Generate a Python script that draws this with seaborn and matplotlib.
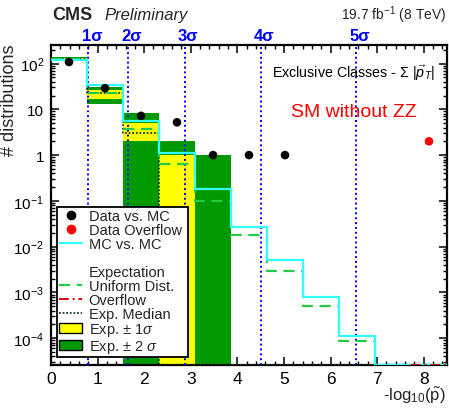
import math
import numpy as np
import pandas as pd
import matplotlib
matplotlib.use("Agg")
import matplotlib.pyplot as plt
import matplotlib.transforms as mtransforms
from matplotlib.lines import Line2D
from matplotlib.patches import Patch
from matplotlib.ticker import MultipleLocator, LogLocator, NullFormatter
import seaborn as sns

# ---- binning of -log10(p~) ----
x_range = (0.0, 8.5)
n_bins = 11

# observed number of distributions per bin (Data vs. MC), first bins
data_counts = [108, 29, 7.2, 5.2, 1, 1, 1]
# overflow entry (last bin)
overflow_count = [2]

# MC vs. MC comparison
mc_vs_mc = [118, 34.5, 5.6, 1.09, 0.18, 0.027, 0.005, 7.8e-4, 1.1e-4, 0, 0]
# expectation for a uniform p~ distribution
uniform_dist = [128, 22.3, 3.7, 0.63, 0.10, 0.018, 0.003, 5.0e-4, 8.7e-5, 0, 0]
# pseudo-experiment median and bands
exp_median = [128, 22.3, 3.07, 0, 0, 0, 0, 0, 0, 0, 0]
band1_lo = [122, 16.7, 2.05, 0, 0, 0, 0, 0, 0, 0, 0]
band1_hi = [131, 26.7, 5.1, 1.0, 0, 0, 0, 0, 0, 0, 0]
band2_lo = [116, 13.0, 0, 0, 0, 0, 0, 0, 0, 0, 0]
band2_hi = [136, 31.0, 8.3, 2.0, 1.0, 0, 0, 0, 0, 0, 0]
# expected overflow
overflow_expected = [0]

sigma_levels = [1, 2, 3, 4, 5]
y_limits = (2.6e-5, 254)

sns.set_theme(style="ticks")
plt.rcParams["font.family"] = ["Liberation Sans", "DejaVu Sans"]
plt.rcParams["mathtext.fontset"] = "custom"
plt.rcParams["mathtext.rm"] = "Liberation Sans"
plt.rcParams["mathtext.it"] = "Liberation Sans:italic"
plt.rcParams["mathtext.bf"] = "Liberation Sans:bold"

edges = np.linspace(x_range[0], x_range[1], n_bins + 1)
centers = 0.5 * (edges[:-1] + edges[1:])
floor = y_limits[0]


def step_frame(values, first_bin=0):
    vals = np.maximum(np.asarray(values, float), floor)
    x = edges[first_bin:first_bin + len(vals) + 1]
    y = np.append(vals, vals[-1])
    return pd.DataFrame({"x": x, "y": y})


def band_edges(values):
    vals = np.maximum(np.asarray(values, float), 1e-9)
    return np.append(vals, vals[-1])


fig = plt.figure(figsize=(4.49, 4.10), dpi=100)
fig.patch.set_facecolor("white")
ax = fig.add_axes([51 / 449, 44 / 410, 396 / 449, 320 / 410])
ax.set_yscale("log")
ax.set_xlim(*x_range)
ax.set_ylim(*y_limits)

# +-2 sigma and +-1 sigma bands
green = "#009900"
yellow = "#ffff00"
ax.fill_between(edges, band_edges(band2_lo), band_edges(band2_hi),
                step="post", color=green, linewidth=0, zorder=1)
ax.fill_between(edges, band_edges(band1_lo), band_edges(band1_hi),
                step="post", color=yellow, linewidth=0, zorder=2)

# significance levels (one-sided p-values)
trans = mtransforms.blended_transform_factory(ax.transData, ax.transAxes)
for n in sigma_levels:
    pos = -math.log10(0.5 * math.erfc(n / math.sqrt(2)))
    ax.axvline(pos, color="#0000ff", linestyle=(0, (1, 1.5)), linewidth=1.4, zorder=3)
    ax.text(pos + 0.08, 1.016, f"{n}\u03c3", transform=trans, ha="center",
            va="baseline", color="#0000ff", fontsize=12, fontweight="bold",
            clip_on=False)

# expectation lines
median_color = "#1a3d1a"
cyan = "#33ffff"
dash_green = "#22cc44"
sns.lineplot(data=step_frame(exp_median), x="x", y="y", ax=ax, sort=False,
             estimator=None, drawstyle="steps-post", color=median_color,
             linestyle=(0, (1, 1)), linewidth=1.3, zorder=4)
sns.lineplot(data=step_frame(uniform_dist), x="x", y="y", ax=ax, sort=False,
             estimator=None, drawstyle="steps-post", color=dash_green,
             linestyle=(0, (5, 3)), linewidth=1.6, zorder=5)
sns.lineplot(data=step_frame(mc_vs_mc), x="x", y="y", ax=ax, sort=False,
             estimator=None, drawstyle="steps-post", color=cyan,
             linewidth=1.6, zorder=6)
sns.lineplot(data=step_frame(overflow_expected, first_bin=n_bins - 1), x="x", y="y",
             ax=ax, sort=False, estimator=None, drawstyle="steps-post",
             color="#dd0000", linestyle=(0, (5, 2, 1, 2)), linewidth=1.4, zorder=6)

# observed points
data_df = pd.DataFrame({"x": centers[:len(data_counts)], "y": data_counts})
sns.scatterplot(data=data_df, x="x", y="y", ax=ax, color="black", s=38,
                edgecolor="none", zorder=8)
over_df = pd.DataFrame({"x": centers[n_bins - 1:n_bins - 1 + len(overflow_count)],
                        "y": overflow_count})
sns.scatterplot(data=over_df, x="x", y="y", ax=ax, color="#ff0000", s=38,
                edgecolor="none", zorder=8)

# axes styling
for sp in ax.spines.values():
    sp.set_linewidth(1.6)
    sp.set_color("black")
ax.xaxis.set_major_locator(MultipleLocator(1))
ax.xaxis.set_minor_locator(MultipleLocator(0.2))
yt = [1e-4, 1e-3, 1e-2, 1e-1, 1, 10, 100]
ax.set_yticks(yt)
ax.set_yticklabels([r"$10^{-4}$", r"$10^{-3}$", r"$10^{-2}$", r"$10^{-1}$", "1", "10",
                    r"$10^{2}$"])
ax.yaxis.set_minor_locator(LogLocator(base=10, subs=np.arange(2, 10), numticks=20))
ax.yaxis.set_minor_formatter(NullFormatter())
ax.tick_params(which="both", direction="in", top=True, right=True, colors="black")
ax.tick_params(which="major", length=6, width=1.1)
ax.tick_params(which="minor", length=3, width=1.0)
ax.tick_params(axis="x", which="major", labelsize=12.5, pad=4)
ax.tick_params(axis="y", which="major", labelsize=11, pad=5)
ax.set_xlabel("")
ax.set_ylabel("")

# legend
handles = [
    Line2D([], [], marker="o", color="black", linestyle="none", markersize=6),
    Line2D([], [], marker="o", color="#ff0000", linestyle="none", markersize=6),
    Line2D([], [], color=cyan, linewidth=1.6),
    Line2D([], [], linestyle="none"),
    Line2D([], [], linestyle="none"),
    Line2D([], [], color=dash_green, linestyle=(0, (5, 3)), linewidth=1.6),
    Line2D([], [], color="#dd0000", linestyle=(0, (5, 2, 1, 2)), linewidth=1.4),
    Line2D([], [], color=median_color, linestyle=(0, (1, 1)), linewidth=1.3),
    Patch(facecolor=yellow, edgecolor="black", linewidth=1.0),
    Patch(facecolor=green, edgecolor="black", linewidth=1.0),
]
labels = ["Data vs. MC", "Data Overflow", "MC vs. MC", " ", "Expectation",
          "Uniform Dist.", "Overflow", "Exp. Median",
          r"Exp. $\pm$ 1$\sigma$", r"Exp. $\pm$ 2 $\sigma$"]
leg = ax.legend(handles, labels, loc="upper left",
                bbox_to_anchor=(0.015, 0.022, 0.331, 0.472), mode="expand",
                frameon=True, fancybox=False, framealpha=1, edgecolor="black",
                fontsize=10.5, labelspacing=0.0, handlelength=1.6, handletextpad=0.42,
                borderpad=0.15, borderaxespad=0, handleheight=0.7)
leg.get_frame().set_linewidth(1.3)
leg.set_zorder(20)

# annotations
ax.text(0.97, 0.9, r"Exclusive Classes - $\Sigma$ $|\vec{p}_{T}|$", transform=ax.transAxes,
        ha="right", va="baseline", fontsize=10.3, color="black")
ax.text(0.765, 0.777, "SM without ZZ", transform=ax.transAxes, ha="center",
        va="baseline", fontsize=14, color="#ff0000")
fig.text(52 / 449, (410 - 20) / 410, "CMS", ha="left", va="baseline",
         fontsize=13, fontweight="bold")
fig.text(104 / 449, (410 - 20) / 410, "Preliminary", ha="left", va="baseline",
         fontsize=12, style="italic")
fig.text(446 / 449, (410 - 19.5) / 410, r"19.7 fb$^{-1}$ (8 TeV)", ha="right",
         va="baseline", fontsize=10)
fig.text(446 / 449, (410 - 401) / 410, r"-log$_{10}$($\tilde{\mathrm{p}}$)", ha="right",
         va="baseline", fontsize=12)
fig.text(10 / 449, (410 - 45) / 410, "# distributions", rotation=90, ha="center",
         va="top", fontsize=13)

fig.savefig("out.png", dpi=100, facecolor="white")
